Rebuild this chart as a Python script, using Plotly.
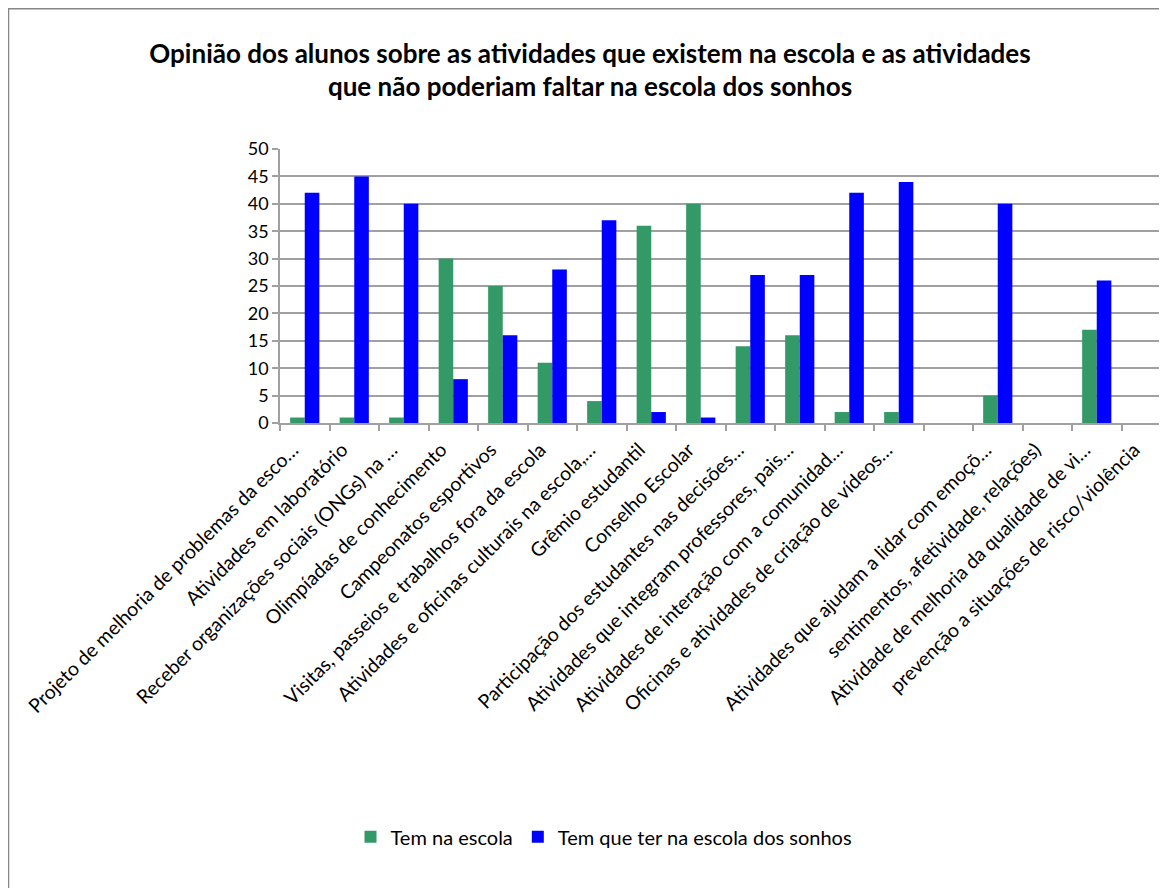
import plotly.graph_objects as go

categories = [
    "Projeto de melhoria de problemas da esco…",
    "Atividades em laboratório",
    "Receber organizações sociais (ONGs) na …",
    "Olimpíadas de conhecimento",
    "Campeonatos esportivos",
    "Visitas, passeios e trabalhos fora da escola",
    "Atividades e oficinas culturais na escola,…",
    "Grêmio estudantil",
    "Conselho Escolar",
    "Participação dos estudantes nas decisões…",
    "Atividades que integram professores, pais…",
    "Atividades de interação com a comunidad…",
    "Oficinas e atividades de criação de vídeos…",
    " ",
    "Atividades que ajudam a lidar com emoçõ…",
    "sentimentos, afetividade, relações)",
    "Atividade de melhoria da qualidade de vi…",
    "prevenção a situações de risco/violência",
]
tem_na_escola = [1, 1, 1, 30, 25, 11, 4, 36, 40, 14, 16, 2, 2, None, 5, None, 17, None]
tem_que_ter = [42, 45, 40, 8, 16, 28, 37, 2, 1, 27, 27, 42, 44, None, 40, None, 26, None]

OFF = 8  # page body margin
W, H = 1167, 888
L, T = 280 - OFF, 149 - OFF
R = W - (1171 - OFF)
B = H - (423.5 - OFF)
font = "Lato"

fig = go.Figure()
fig.add_trace(go.Bar(x=categories, y=tem_na_escola, name="Tem na escola",
                     marker=dict(color="#339966", line=dict(width=0))))
fig.add_trace(go.Bar(x=categories, y=tem_que_ter, name="Tem que ter na escola dos sonhos",
                     marker=dict(color="#0000FF", line=dict(width=0))))

pw = W - L - R
ph = H - T - B

def px(x):
    return (x - OFF - L) / pw

def py(y):
    return (H - B - (y - OFF)) / ph

fig.add_shape(type="rect", xref="paper", yref="paper",
              x0=px(8.5), x1=px(1200), y0=py(900), y1=py(8.5),
              line=dict(color="#868686", width=1.5), fillcolor="rgba(0,0,0,0)", layer="below")

fig.update_layout(
    width=W, height=H,
    margin=dict(l=L, r=R, t=T, b=B, autoexpand=False),
    paper_bgcolor="white", plot_bgcolor="white",
    barmode="group", bargap=0.41, bargroupgap=0,
    font=dict(family=font, color="black"),
    title=dict(text="<b>Opinião dos alunos sobre as atividades que existem na escola e as atividades<br>que não poderiam faltar na escola dos sonhos</b>",
               x=(590 - OFF) / W, xanchor="center", y=1 - (62.5 - OFF) / H, yanchor="middle",
               font=dict(family=font, size=26, color="black")),
    showlegend=True,
    legend=dict(orientation="h", x=px(604), xanchor="center", y=py(838), yanchor="middle",
                xref="paper", yref="paper",
                font=dict(family=font, size=20, color="black"), itemwidth=30, traceorder="normal"),
    xaxis=dict(type="category", tickangle=-45, tickfont=dict(family=font, size=19.5, color="black"),
               ticklabelshift=-12, ticklabelstandoff=6,
               showline=True, linecolor="#a0a0a0", linewidth=1.5,
               ticks="outside", tickson="boundaries", ticklen=6, tickcolor="#a0a0a0", tickwidth=1.5,
               showgrid=False, automargin=False),
    yaxis=dict(range=[0, 50], dtick=5, tickfont=dict(family=font, size=18, color="black"),
               showline=True, linecolor="#a0a0a0", linewidth=1.5,
               ticks="outside", ticklen=6, tickcolor="#a0a0a0", tickwidth=1.5,
               showgrid=True, gridcolor="#a0a0a0", gridwidth=1.5, zeroline=False,
               automargin=False),
)

fig.write_html("out.html")
